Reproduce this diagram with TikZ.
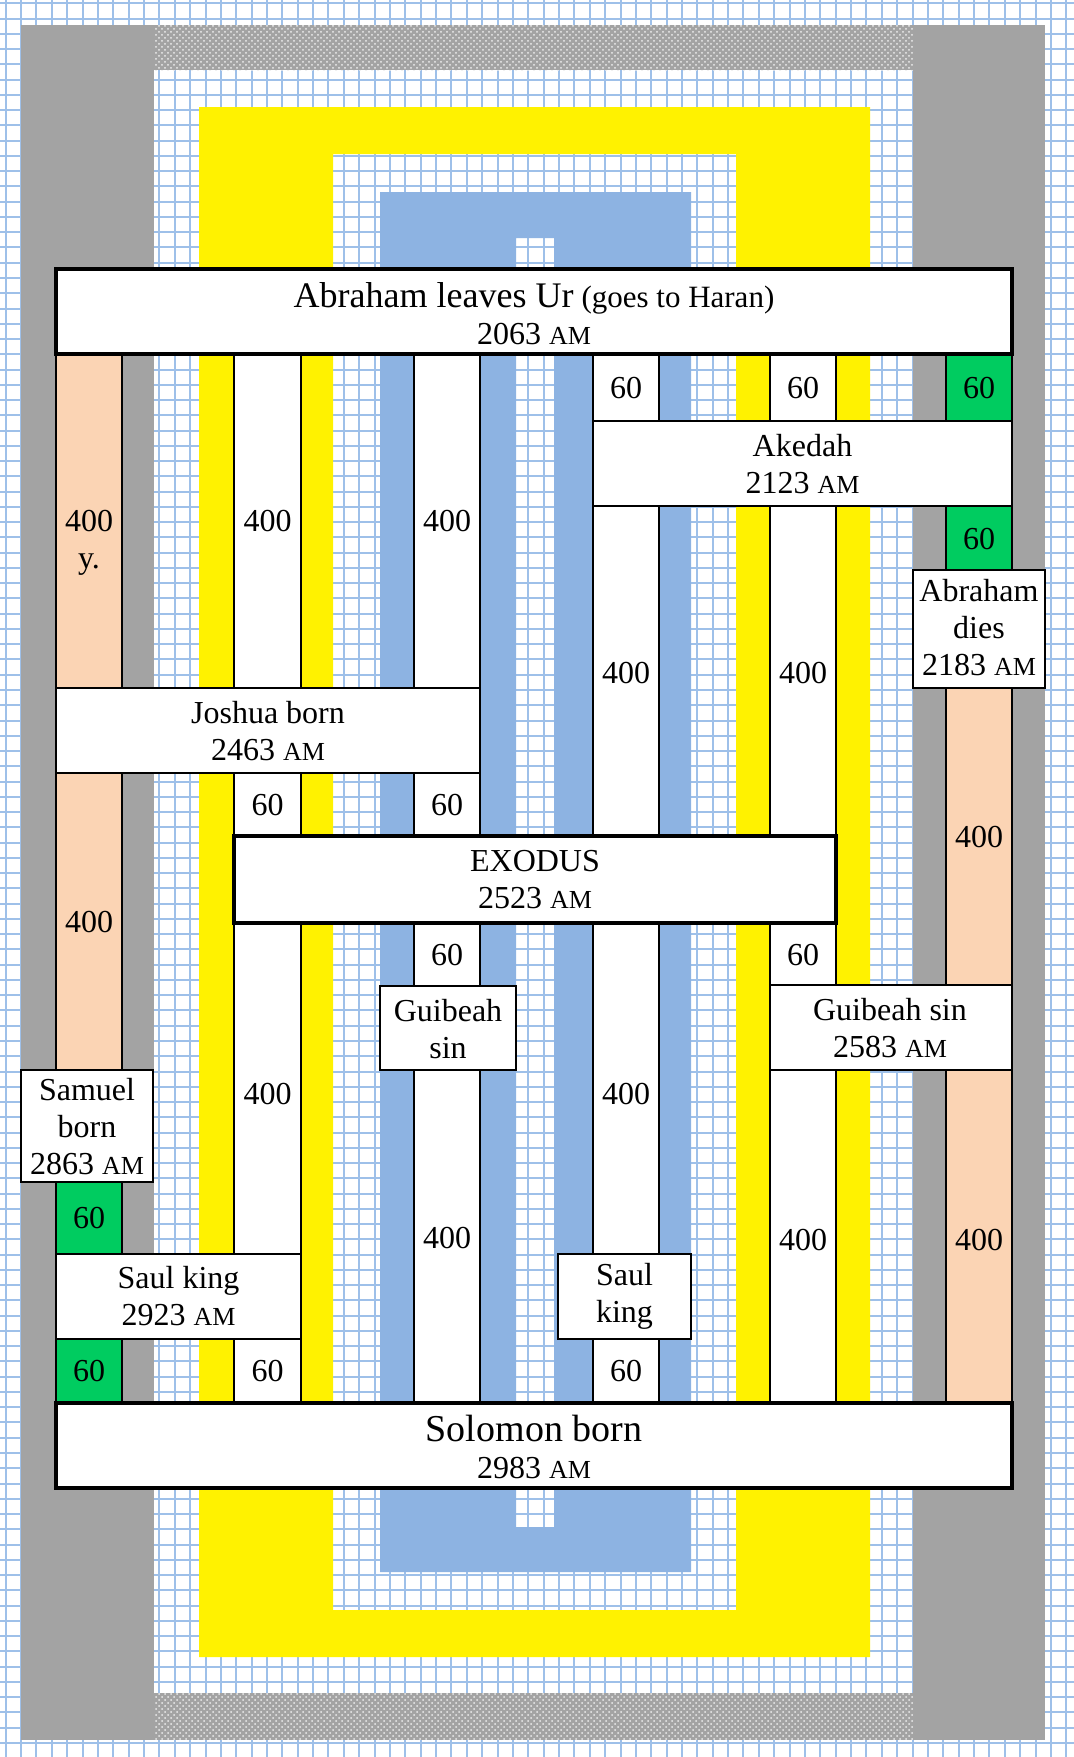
\documentclass[tikz,border=0pt]{standalone}
\usepackage{fontspec}
\setmainfont{Liberation Serif}
\usetikzlibrary{patterns}
\newcommand{\am}{{\fontsize{13}{15}\selectfont AM}}

\begin{document}
\begin{tikzpicture}[x=0.5pt,y=-0.5pt,
  gridline/.style={draw={rgb,255:red,158;green,192;blue,233},line width=1pt},
  greyband/.style={fill={rgb,255:red,163;green,163;blue,163}},
  dotband/.style={pattern=crosshatch dots,pattern color=white!85!gray},
  yellowband/.style={fill=yellow},
  blueband/.style={fill={rgb,255:red,141;green,179;blue,226}},
  cell/.style={draw,line width=0.75pt,fill=white},
  peachcell/.style={cell,fill={rgb,255:red,251;green,212;blue,180}},
  greencell/.style={cell,fill={rgb,255:red,0;green,204;blue,96}},
  box/.style={draw,line width=1pt,fill=white},
  bigbox/.style={draw,line width=1.6pt,fill=white},
  every node/.style={align=center,font=\fontsize{16}{18.5}\selectfont}]
  \useasboundingbox (0,0) rectangle (1074,1757);
  % grid paper
  \fill[white] (0,0) rectangle (1074,1757);
  \foreach \i in {0,...,69}
    \draw[gridline] ({5.7+15.37*\i},0) -- ({5.7+15.37*\i},1757);
  \foreach \j in {0,...,114}
    \draw[gridline] (0,{3.3+15.26*\j}) -- (1074,{3.3+15.26*\j});
  % frames
  \fill[greyband] (21,25) rectangle (154,1740);
  \fill[greyband] (913,25) rectangle (1045,1740);
  \fill[greyband] (154,25) rectangle (913,70);
  \fill[dotband] (154,25) rectangle (913,70);
  \fill[greyband] (154,1693) rectangle (913,1740);
  \fill[dotband] (154,1693) rectangle (913,1740);
  \fill[yellowband,even odd rule] (199,107) rectangle (870,1657) (333,154) rectangle (736,1610);
  \fill[blueband,even odd rule] (380,192) rectangle (691,1572) (516,238) rectangle (554,1527);
  % column A
  \draw[peachcell] (56,354) rectangle (122,688);
  \node (a1) at (89,543) {400\\y.};
  \draw[peachcell] (56,773) rectangle (122,1070);
  \node (a2) at (89,922) {400};
  \draw[greencell] (56,1182) rectangle (122,1254);
  \node (a3) at (89,1218) {60};
  \draw[greencell] (56,1339) rectangle (122,1403);
  \node (a4) at (89,1371) {60};
  % column B
  \draw[cell] (234,354) rectangle (301,688);
  \node (b1) at (267.5,521) {400};
  \draw[cell] (234,773) rectangle (301,836);
  \node (b2) at (267.5,805) {60};
  \draw[cell] (234,923) rectangle (301,1254);
  \node (b3) at (267.5,1094) {400};
  \draw[cell] (234,1339) rectangle (301,1403);
  \node (b4) at (267.5,1371) {60};
  % column C
  \draw[cell] (414,354) rectangle (480,688);
  \node (c1) at (447,521) {400};
  \draw[cell] (414,773) rectangle (480,836);
  \node (c2) at (447,805) {60};
  \draw[cell] (414,923) rectangle (480,986);
  \node (c3) at (447,955) {60};
  \draw[cell] (414,1070) rectangle (480,1403);
  \node (c4) at (447,1238) {400};
  % column D
  \draw[cell] (593,354) rectangle (659,421);
  \node (d1) at (626,388) {60};
  \draw[cell] (593,506) rectangle (659,836);
  \node (d2) at (626,673) {400};
  \draw[cell] (593,923) rectangle (659,1254);
  \node (d3) at (626,1094) {400};
  \draw[cell] (593,1339) rectangle (659,1403);
  \node (d4) at (626,1371) {60};
  % column E
  \draw[cell] (770,354) rectangle (836,421);
  \node (e1) at (803,388) {60};
  \draw[cell] (770,506) rectangle (836,836);
  \node (e2) at (803,673) {400};
  \draw[cell] (770,923) rectangle (836,985);
  \node (e3) at (803,955) {60};
  \draw[cell] (770,1070) rectangle (836,1403);
  \node (e4) at (803,1240) {400};
  % column F
  \draw[greencell] (946,354) rectangle (1012,421);
  \node (f1) at (979,388) {60};
  \draw[greencell] (946,506) rectangle (1012,570);
  \node (f2) at (979,539) {60};
  \draw[peachcell] (946,688) rectangle (1012,985);
  \node (f3) at (979,837) {400};
  \draw[peachcell] (946,1070) rectangle (1012,1403);
  \node (f4) at (979,1240) {400};
  % events
  \draw[bigbox] (56,269) rectangle (1012,354);
  \node (ur) at (534,314) {{\fontsize{18}{20}\selectfont Abraham leaves Ur} {\fontsize{15.5}{20}\selectfont (goes to Haran)}\\2063 \am};
  \draw[box] (593,421) rectangle (1012,506);
  \node (akedah) at (802.5,464) {Akedah\\2123 \am};
  \draw[box] (913,570) rectangle (1045,688);
  \node (abrdies) at (979,628) {Abraham\\dies\\2183 \am};
  \draw[box] (56,688) rectangle (480,773);
  \node (joshua) at (268,731) {Joshua born\\2463 \am};
  \draw[bigbox] (234,836) rectangle (836,923);
  \node (exodus) at (535,880) {EXODUS\\2523 \am};
  \draw[box] (380,986) rectangle (516,1070);
  \node (guibeah) at (448,1029) {Guibeah\\sin};
  \draw[box] (770,985) rectangle (1012,1070);
  \node (guibdate) at (890,1028) {Guibeah sin\\2583 \am};
  \draw[box] (21,1070) rectangle (153,1182);
  \node (samuel) at (87,1127) {Samuel\\born\\2863 \am};
  \draw[box] (56,1254) rectangle (301,1339);
  \node (saulking) at (178.5,1296) {Saul king\\2923 \am};
  \draw[box] (558,1254) rectangle (691,1339);
  \node (saul) at (624.5,1296) {Saul\\king};
  \draw[bigbox] (56,1403) rectangle (1012,1488);
  \node (solomon) at (534,1447) {{\fontsize{19}{19.5}\selectfont Solomon born}\\2983 \am};
\end{tikzpicture}
\end{document}
